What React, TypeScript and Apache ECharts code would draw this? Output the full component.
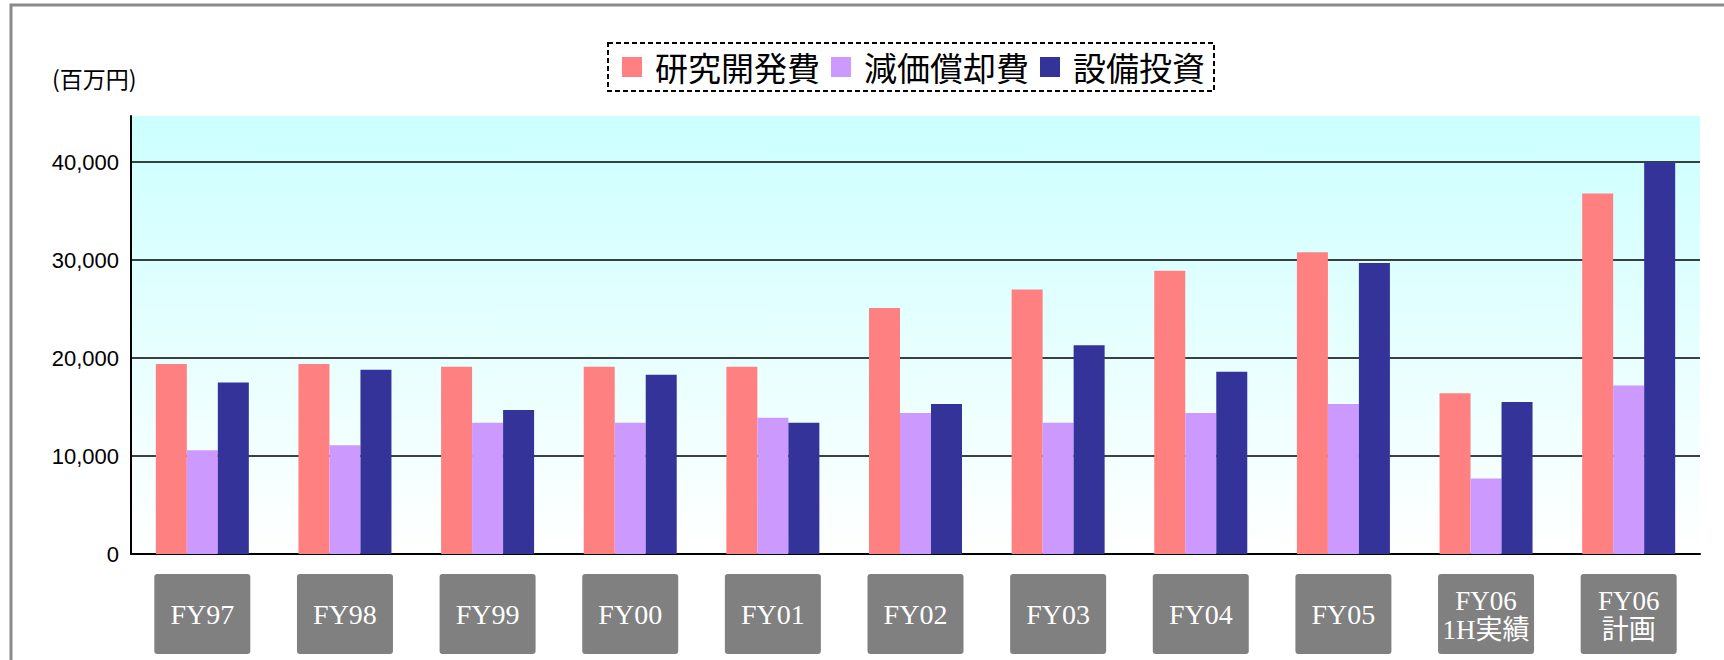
import React, { useEffect, useRef } from "react";
import * as echarts from "echarts";

const categories = ["FY97", "FY98", "FY99", "FY00", "FY01", "FY02", "FY03", "FY04", "FY05", "FY06\n1H実績", "FY06\n計画"];
const rdCost = [19400, 19400, 19100, 19100, 19100, 25100, 27000, 28900, 30800, 16400, 36800];
const depreciation = [10600, 11100, 13400, 13400, 13900, 14400, 13400, 14400, 15300, 7700, 17200];
const capex = [17500, 18800, 14700, 18300, 13400, 15300, 21300, 18600, 29700, 15500, 40000];
const seriesNames = ["研究開発費", "減価償却費", "設備投資"];
const unitLabel = "(百万円)";
const yMin = 0;
const yMax = 44700;
const yInterval = 10000;

const SANS = '"Liberation Sans", Arial, "Noto Sans CJK JP", sans-serif';
const CJK = '"Noto Sans CJK JP", "Noto Sans CJK SC", sans-serif';
const SERIF = '"Liberation Serif", "Noto Sans CJK JP", serif';

export default function App() {
  const ref = useRef<HTMLDivElement>(null);
  useEffect(() => {
    if (!ref.current) return;
    const chart = echarts.init(ref.current, null, { renderer: "svg" });
    const barStyle = (color: string) => ({ color });
    chart.setOption({
      animation: false,
      textStyle: { fontFamily: SANS },
      graphic: [
        {
          type: "rect",
          shape: { x: 11, y: 5, width: 1800, height: 800 },
          style: { fill: "none", stroke: "#8a8a8a", lineWidth: 3 },
          silent: true,
        },
        {
          type: "text",
          x: 52,
          y: 78,
          style: {
            text: unitLabel,
            fontFamily: CJK,
            fontSize: 23,
            fill: "#000",
            verticalAlign: "middle",
          },
        },
      ],
      legend: {
        left: 608,
        top: 43,
        orient: "horizontal",
        icon: "rect",
        itemWidth: 20,
        itemHeight: 20,
        itemGap: 11,
        padding: [7, 9, 7, 14],
        borderColor: "#000",
        borderWidth: 2,
        borderType: [5, 3],
        backgroundColor: "#fff",
        textStyle: {
          fontFamily: CJK,
          fontSize: 33,
          lineHeight: 34,
          color: "#000",
          padding: [0, 0, 0, 8],
        },
        selectedMode: false,
        data: seriesNames,
      },
      grid: {
        left: 131,
        right: 24,
        top: 116,
        bottom: 106,
        show: true,
        borderWidth: 0,
        backgroundColor: new echarts.graphic.LinearGradient(0, 0, 0, 1, [
          { offset: 0, color: "#CCFFFF" },
          { offset: 1, color: "#FFFFFF" },
        ]),
        outerBoundsMode: "none",
      },
      xAxis: {
        type: "category",
        data: categories,
        axisLine: { show: true, lineStyle: { color: "#000", width: 2 } },
        axisTick: { show: false },
        axisLabel: {
          interval: 0,
          margin: 20,
          color: "#fff",
          formatter: (v: string) => {
            const parts = v.split("\n");
            if (parts.length === 1) return `{s|${v}}`;
            return `{t| }\n{m|${parts[0]}}\n{m|${parts[1]}}\n{b| }`;
          },
          rich: {
            s: {
              width: 96,
              height: 80,
              lineHeight: 80,
              align: "center",
              backgroundColor: "#808080",
              borderRadius: 3,
              color: "#fff",
              fontFamily: SERIF,
              fontSize: 28,
            },
            t: {
              width: 96,
              height: 12,
              lineHeight: 12,
              fontSize: 8,
              align: "center",
              backgroundColor: "#808080",
              borderRadius: [3, 3, 0, 0],
            },
            m: {
              width: 96,
              height: 29,
              lineHeight: 29,
              align: "center",
              backgroundColor: "#808080",
              color: "#fff",
              fontFamily: SERIF,
              fontSize: 27,
            },
            b: {
              width: 96,
              height: 10,
              lineHeight: 10,
              fontSize: 8,
              align: "center",
              backgroundColor: "#808080",
              borderRadius: [0, 0, 3, 3],
            },
          },
        },
      },
      yAxis: {
        type: "value",
        min: yMin,
        max: yMax,
        interval: yInterval,
        axisLine: { show: true, lineStyle: { color: "#000", width: 2 } },
        axisTick: { show: false },
        axisLabel: {
          margin: 12,
          color: "#000",
          fontFamily: SANS,
          fontSize: 22,
          showMaxLabel: false,
          formatter: (v: number) => v.toLocaleString("en-US"),
        },
        splitLine: {
          show: true,
          showMaxLine: false,
          lineStyle: { color: "#000", width: 1.5 },
        },
      },
      series: [
        { name: seriesNames[0], type: "bar", data: rdCost, barWidth: 31, barGap: "0%", itemStyle: barStyle("#FF8080") },
        { name: seriesNames[1], type: "bar", data: depreciation, barWidth: 31, barGap: "0%", itemStyle: barStyle("#CC99FF") },
        { name: seriesNames[2], type: "bar", data: capex, barWidth: 31, barGap: "0%", itemStyle: barStyle("#333399") },
      ],
    });
    return () => chart.dispose();
  }, []);
  return (
    <div
      ref={ref}
      style={{ position: "fixed", left: 0, top: 0, width: 1724, height: 660, background: "#fff" }}
    />
  );
}
